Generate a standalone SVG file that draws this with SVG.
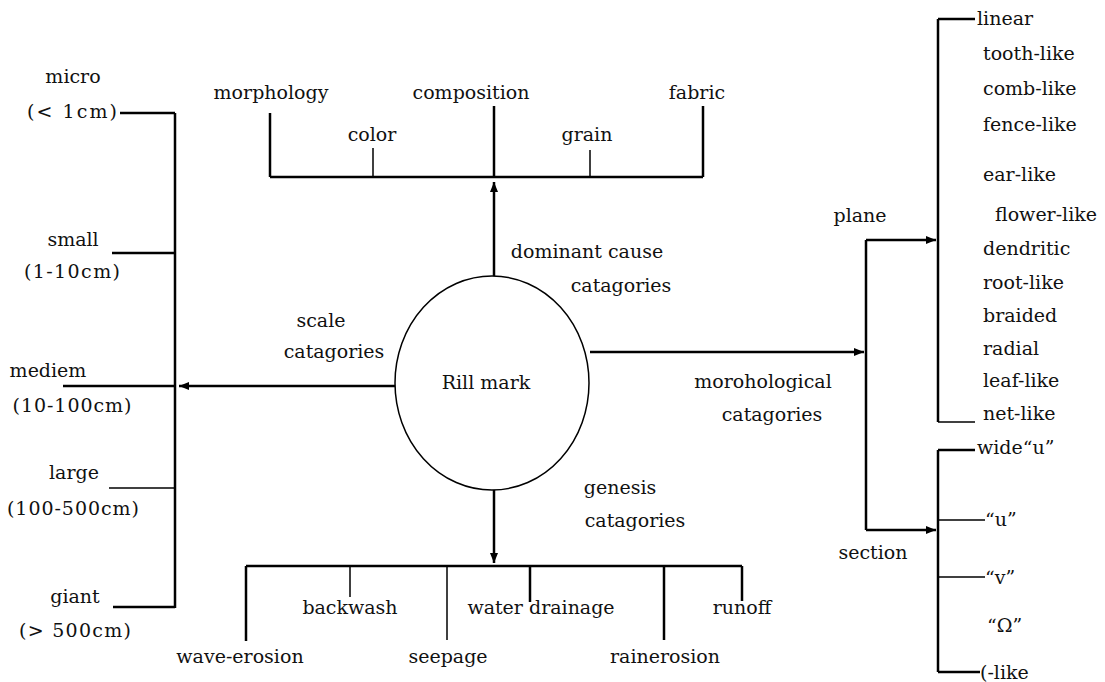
<svg xmlns="http://www.w3.org/2000/svg" width="1105" height="682" viewBox="0 0 1105 682">
<style>
text{font-family:"DejaVu Serif","Liberation Serif",serif;font-size:19px;fill:#111}
.m{text-anchor:middle}
.ln{stroke:#000;stroke-width:2.5;fill:none}
.th{stroke:#000;stroke-width:1.5;fill:none}
</style>
<defs>
<marker id="ah" viewBox="0 0 10 10" refX="10" refY="5" markerWidth="4" markerHeight="4" orient="auto" markerUnits="strokeWidth">
<path d="M0,1 L10,5 L0,9 Z" fill="#000"/>
</marker>
</defs>
<rect width="1105" height="682" fill="#fff"/>
<g id="connectors">
<path class="ln" d="M175,113 V608"/>
<path class="ln" d="M120,113 H175"/>
<path class="ln" d="M112,253 H175"/>
<path class="ln" d="M63,386 H175"/>
<path class="ln" d="M395,386 H179" marker-end="url(#ah)"/>
<path class="th" d="M109,488 H175"/>
<path class="ln" d="M113,607 H175"/>
<path class="ln" d="M494,276 V182" marker-end="url(#ah)"/>
<path class="ln" d="M270,177 H703"/>
<path class="ln" d="M270,113 V177"/>
<path class="th" d="M373,148 V177"/>
<path class="ln" d="M494,106 V177"/>
<path class="th" d="M590,150 V177"/>
<path class="ln" d="M703,106 V177"/>
<path class="ln" d="M494,490 V563" marker-end="url(#ah)"/>
<path class="ln" d="M246,566 H742"/>
<path class="ln" d="M246,566 V641"/>
<path class="th" d="M350,566 V597"/>
<path class="th" d="M447,566 V640"/>
<path class="ln" d="M530,566 V602"/>
<path class="ln" d="M664,566 V640"/>
<path class="ln" d="M742,566 V601"/>
<path class="ln" d="M590,352 H864" marker-end="url(#ah)"/>
<path class="ln" d="M866,240 V530"/>
<path class="ln" d="M866,240 H936" marker-end="url(#ah)"/>
<path class="ln" d="M866,530 H936" marker-end="url(#ah)"/>
<path class="ln" d="M938,19 V422"/>
<path class="ln" d="M938,19 H975"/>
<path class="th" d="M938,422 H975"/>
<path class="ln" d="M938,450 V672"/>
<path class="ln" d="M938,450 H975"/>
<path class="th" d="M938,520 H985"/>
<path class="th" d="M938,577 H985"/>
<path class="ln" d="M938,672 H980"/>
</g>
<g id="center">
<ellipse cx="492" cy="383" rx="97" ry="107" fill="none" stroke="#000" stroke-width="1.5"/>
<text class="m" x="486" y="389">Rill mark</text>
</g>
<g id="scale">
<text class="m" x="321" y="327">scale</text>
<text class="m" x="334" y="358">catagories</text>
<text class="m" x="73" y="83">micro</text>
<text class="m" x="72" y="118" textLength="90" lengthAdjust="spacing">(&lt; 1cm)</text>
<text class="m" x="73" y="246">small</text>
<text class="m" x="72" y="278" textLength="96" lengthAdjust="spacing">(1-10cm)</text>
<text class="m" x="48" y="377">mediem</text>
<text class="m" x="72" y="412" textLength="119" lengthAdjust="spacing">(10-100cm)</text>
<text class="m" x="74" y="479">large</text>
<text class="m" x="73" y="515" textLength="132" lengthAdjust="spacing">(100-500cm)</text>
<text class="m" x="75" y="603">giant</text>
<text class="m" x="75" y="637" textLength="112" lengthAdjust="spacing">(&gt; 500cm)</text>
</g>
<g id="dominant">
<text class="m" x="587" y="258">dominant cause</text>
<text class="m" x="621" y="292">catagories</text>
<text class="m" x="271" y="99">morphology</text>
<text class="m" x="471" y="99">composition</text>
<text class="m" x="697" y="99">fabric</text>
<text class="m" x="372" y="141">color</text>
<text class="m" x="587" y="141">grain</text>
</g>
<g id="genesis">
<text class="m" x="620" y="494">genesis</text>
<text class="m" x="635" y="527">catagories</text>
<text class="m" x="240" y="663">wave-erosion</text>
<text class="m" x="350" y="614">backwash</text>
<text class="m" x="448" y="663">seepage</text>
<text class="m" x="541" y="614">water drainage</text>
<text class="m" x="665" y="663">rainerosion</text>
<text class="m" x="742" y="614">runoff</text>
</g>
<g id="morphological">
<text class="m" x="763" y="388">morohological</text>
<text class="m" x="772" y="421">catagories</text>
<text class="m" x="860" y="222">plane</text>
<text class="m" x="873" y="559">section</text>
<text x="977" y="25">linear</text>
<text x="983" y="60">tooth-like</text>
<text x="983" y="95">comb-like</text>
<text x="983" y="131">fence-like</text>
<text x="983" y="181">ear-like</text>
<text x="995" y="221">flower-like</text>
<text x="983" y="255">dendritic</text>
<text x="983" y="289">root-like</text>
<text x="983" y="322">braided</text>
<text x="983" y="355">radial</text>
<text x="983" y="387">leaf-like</text>
<text x="983" y="420">net-like</text>
<text x="977" y="454">wide“u”</text>
<text x="985" y="526">“u”</text>
<text x="985" y="584">“v”</text>
<text x="987" y="632">“Ω”</text>
<text x="980" y="679">(-like</text>
</g>
</svg>
